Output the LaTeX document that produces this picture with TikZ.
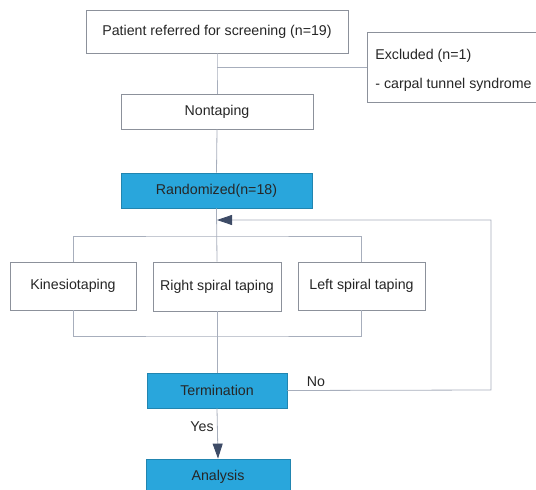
\documentclass[tikz,border=0pt]{standalone}
\usepackage{fontspec}
\setmainfont{Liberation Sans}
\usepackage{tikz}
\usetikzlibrary{arrows.meta}
\usepackage{xcolor}
\definecolor{boxline}{HTML}{8C919B}
\definecolor{connline}{HTML}{A7AEBC}
\definecolor{stepblue}{HTML}{29A6DC}
\definecolor{tipdark}{HTML}{3D4B66}
\tikzset{
	plainbox/.style={draw=boxline, line width=0.8pt, fill=white, inner sep=2pt, text=black!85, font=\fontsize{14.2}{17}\selectfont},
	bluebox/.style={draw=stepblue!80!black, line width=0.8pt, fill=stepblue, inner sep=2pt, text=black!85, font=\fontsize{14.2}{17}\selectfont},
	link/.style={draw=connline, line width=0.8pt},
	linkarrow/.style={link, -{Triangle[length=15pt,width=10pt,color=tipdark]}},
	tag/.style={font=\fontsize{14.2}{17}\selectfont, text=black!85}
}
\begin{document}
\begin{tikzpicture}[x=1pt, y=-1pt]
				\useasboundingbox (0,0) rectangle (536,490);
				\clip (0,0) rectangle (536,490);
				\node[plainbox, minimum width=262pt, minimum height=43pt] (patient) at (217, 31.5) {Patient referred for screening (n=19)};
				\node[plainbox, minimum width=173pt, minimum height=70pt, align=left, font=\fontsize{14.2}{29}\selectfont] (excluded) at (453.5, 67) {\rule{0pt}{16pt}Excluded (n=1)\\- carpal tunnel syndrome};
				\node[plainbox, minimum width=192pt, minimum height=35pt] (nontaping) at (217, 111.5) {Nontaping};
				\node[bluebox, minimum width=191pt, minimum height=35pt] (randomized) at (216.5, 190.5) {Randomized(n=18)};
				\node[plainbox, minimum width=126pt, minimum height=48pt] (kinesio) at (73, 286) {Kinesiotaping};
				\node[plainbox, minimum width=128pt, minimum height=49pt] (rightspiral) at (217, 286.5) {Right spiral taping};
				\node[plainbox, minimum width=127pt, minimum height=48pt] (leftspiral) at (361.5, 286) {Left spiral taping};
				\node[bluebox, minimum width=140pt, minimum height=35pt] (termination) at (217, 390.5) {Termination};
				\node[bluebox, minimum width=144pt, minimum height=36pt] (analysis) at (218, 477) {Analysis};
				\coordinate (split) at (217, 67);
				\coordinate (loopin) at (217, 220);
				\coordinate (branch) at (217, 236);
				\coordinate (join) at (217, 336);
				\coordinate (turn) at (491, 390);
				\draw[link] (patient.south) -- (split) -- (nontaping.north);
				\draw[link] (split) -- (excluded.west);
				\draw[link] (nontaping.south) -- (randomized.north);
				\draw[link] (randomized.south) -- (rightspiral.north);
				\draw[link] (kinesio.north) |- (branch) -| (leftspiral.north);
				\draw[link] (kinesio.south) |- (join) -| (leftspiral.south);
				\draw[link] (rightspiral.south) -- (termination.north);
				\draw[linkarrow] (termination.south) -- node[tag, left, pos=0.37] {Yes} (analysis.north);
				\draw[linkarrow] (termination.east) -- node[tag, above, pos=0.14] {No} (turn) |- (loopin);
			\end{tikzpicture}
\end{document}
